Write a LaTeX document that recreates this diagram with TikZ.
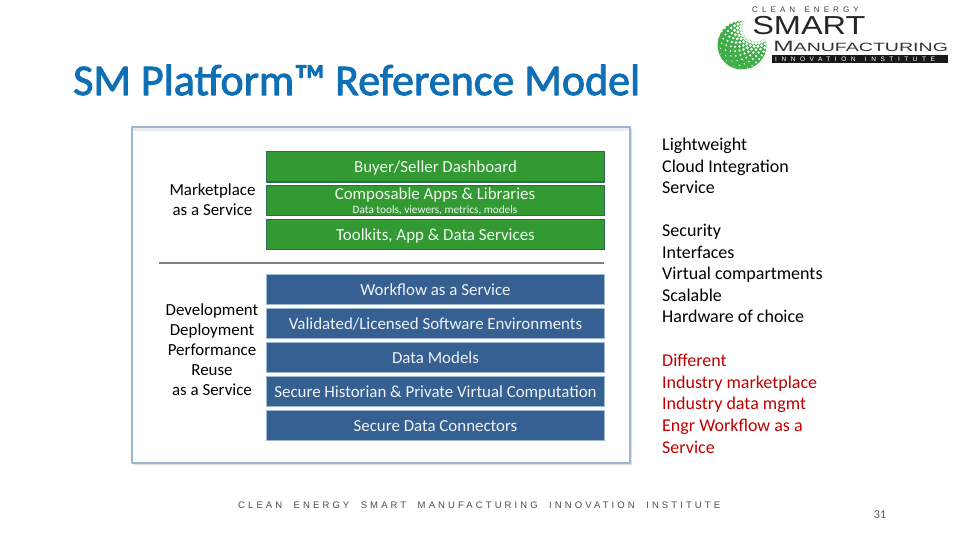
\documentclass[tikz,border=0pt]{standalone}
\usepackage{fontspec}
\setmainfont{Carlito}
\newfontfamily\logofont{Liberation Sans}
\newfontfamily\titlefont[FakeBold=2]{Carlito}
\newfontfamily\footfont[LetterSpace=32.6]{Liberation Sans}
\newfontfamily\logotopfont[LetterSpace=51]{Liberation Sans}
\newfontfamily\logobarfont[LetterSpace=70]{Liberation Sans}
\definecolor{titleblue}{HTML}{0F6FB5}
\definecolor{boxgreen}{HTML}{339933}
\definecolor{edgegreen}{HTML}{2A6B55}
\definecolor{boxblue}{HTML}{366092}
\definecolor{edgeblue}{HTML}{9DB9D6}
\definecolor{panelline}{HTML}{9FB6CE}
\definecolor{logogreen}{HTML}{3FAE49}
\definecolor{redtext}{HTML}{C00000}
\tikzset{
	greenbox/.style={draw=edgegreen,line width=1pt,fill=boxgreen,text=white!92!boxgreen,minimum width=338pt,minimum height=30pt,inner sep=0pt,anchor=north west,text height=11pt,text depth=0pt,font=\fontsize{16.9}{18}\selectfont},
	bluebox/.style={draw=edgeblue,line width=1pt,fill=boxblue,text=white!92!boxblue,minimum width=338pt,minimum height=30pt,inner sep=0pt,anchor=north west,text height=11pt,text depth=0pt,font=\fontsize{16.9}{18}\selectfont},
	sidelabel/.style={align=center,inner sep=0pt,font=\fontsize{16.9}{20}\selectfont},
	notes/.style={align=left,anchor=north west,inner sep=0pt,font=\fontsize{18}{21.6}\selectfont},
}
\begin{document}
\begin{tikzpicture}[x=1pt,y=-1pt,line join=round]
	\useasboundingbox (0,0) rectangle (960,540);
	\fill[white] (0,0) rectangle (960,540);
	% title
	\node[anchor=west,inner sep=0pt,text=titleblue,font=\titlefont\fontsize{44}{44}\selectfont] (title) at (73,80) {SM Platform™ Reference Model};
	% logo
	\fill[logogreen] (742,45) circle (24.5);
	\begin{scope}
		\clip (742,45) circle (25);
		\fill[white] (756,28) circle (12);
		\foreach \k in {0,...,11}{
			\foreach \a in {0,12,...,348}{
				\fill[white] ({756+(12+\k*3.2)*cos(\a+\k*6)},{28+(12+\k*3.2)*sin(\a+\k*6)}) circle ({2-\k*0.15});
			}
		}
	\end{scope}
	\node[anchor=west,inner sep=0pt,font=\logotopfont\fontsize{8}{8}\selectfont,text=black!75] (logotop) at (752,10) {CLEAN\hspace{3pt} ENERGY};
	\node[anchor=west,inner sep=0pt,font=\logofont\fontsize{26}{26}\selectfont,text=black!85,xscale=1.25,transform shape] (logosmart) at (752,26) {SMART};
	\node[anchor=west,inner sep=0pt,font=\logofont\fontsize{15}{15}\selectfont,text=black!80,xscale=1.63,transform shape] (logomfg) at (773,46.5) {M\fontsize{12}{12}\selectfont ANUFACTURING};
	\node[anchor=north west,fill=black!90,inner sep=0pt,minimum width=176pt,minimum height=8pt] (logobar) at (772,55) {};
	\node[anchor=west,inner sep=0pt,text=white!75,font=\logobarfont\fontsize{6.5}{7}\selectfont] (logobartext) at (775,59) {INNOVATION\hspace{3pt} INSTITUTE};
	% panel
	\fill[black!12] (134,129) rectangle (632,465);
	\draw[panelline,line width=1.2pt,fill=white] (132,127) rectangle (630,463);
	\fill[panelline!25] (133,128) rectangle (629,131);
	% boxes
	\node[greenbox] (dashboard) at (266,151.5) {Buyer/Seller Dashboard};
	\node[greenbox] (apps) at (266,185) {};
	\node[anchor=center,inner sep=0pt,text=white!92!boxgreen,font=\fontsize{16.9}{18}\selectfont] (appstext) at (435,195) {Composable Apps \& Libraries};
	\node[anchor=center,inner sep=0pt,text=white!92!boxgreen,font=\fontsize{11.25}{12}\selectfont] (appssub) at (435,210) {Data tools, viewers, metrics, models};
	\node[greenbox] (toolkits) at (266,219) {Toolkits, App \& Data Services};
	\node[bluebox] (workflow) at (266,274) {Workflow as a Service};
	\node[bluebox] (validated) at (266,308) {Validated/Licensed Software Environments};
	\node[bluebox] (datamodels) at (266,342) {Data Models};
	\node[bluebox] (historian) at (266,376) {Secure Historian \& Private Virtual Computation};
	\node[bluebox] (connectors) at (266,410) {Secure Data Connectors};
	% separator
	\coordinate (sepleft) at (159,263);
	\coordinate (sepright) at (604,263);
	\draw[black!50,line width=1.8pt] (sepleft)--(sepright);
	% side labels
	\node[sidelabel] (market) at (212.5,200) {Marketplace\\as a Service};
	\node[sidelabel] (develop) at (212,349.5) {Development\\Deployment\\Performance\\Reuse\\as a Service};
	% notes
	\node[notes] (noteone) at (662,138) {Lightweight\\Cloud Integration\\Service};
	\node[notes] (notetwo) at (662,224) {Security\\Interfaces\\Virtual compartments\\Scalable\\Hardware of choice};
	\node[notes,text=redtext] (notethree) at (662,354) {Different\\Industry marketplace\\Industry data mgmt\\Engr Workflow as a\\Service};
	% footer
	\node[anchor=west,inner sep=0pt,text=black!70,font=\footfont\fontsize{9.5}{10}\selectfont] (footer) at (238,505) {CLEAN\ \ ENERGY\ \ SMART\ \ MANUFACTURING\ \ INNOVATION\ \ INSTITUTE};
	\node[inner sep=0pt,text=black!65,font=\fontsize{12}{12}\selectfont] (pagenum) at (880,515) {31};
\end{tikzpicture}
\end{document}
